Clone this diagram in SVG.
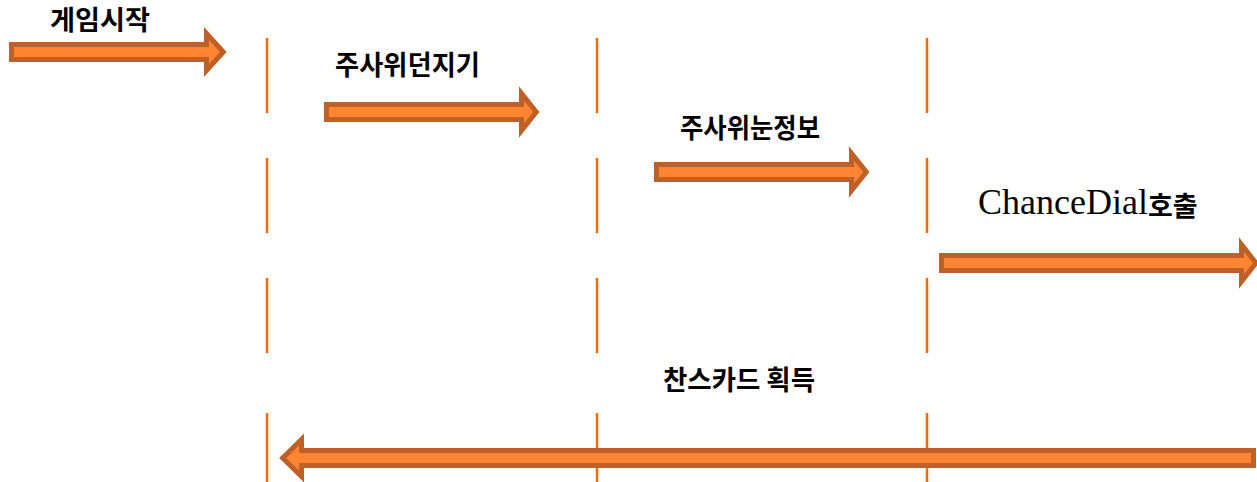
<svg xmlns="http://www.w3.org/2000/svg" width="1257" height="482" viewBox="0 0 1257 482">
  <style>
    .life { fill: none; stroke: #FF6A00; stroke-width: 2.5; }
    .arrow { fill: #FF8533; stroke: #BE6128; stroke-width: 5; stroke-linejoin: miter; stroke-miterlimit: 10; }
    .ko { font-family: "Noto Sans CJK KR", sans-serif; font-weight: bold; font-size: 27px; fill: #000; }
    .serif { font-family: "Liberation Serif", serif; font-size: 36px; fill: #000; }
  </style>
  <rect width="1257" height="482" fill="#fff"/>
  <g id="lifeline-1">
    <path class="life" d="M267,38V113M267,158V233M267,278V353M267,413V482"/>
  </g>
  <g id="lifeline-2">
    <path class="life" d="M597,38V113M597,158V233M597,278V353M597,413V482"/>
  </g>
  <g id="lifeline-3">
    <path class="life" d="M927,38V113M927,158V233M927,278V353M927,413V482"/>
  </g>
  <g id="connectors">
    <polygon class="arrow" points="11.5,44.5 206.5,44.5 206.5,33.5 223.3,52 206.5,70.5 206.5,59.5 11.5,59.5"/>
    <polygon class="arrow" points="326.5,104.5 521.5,104.5 521.5,93.5 536.3,112 521.5,130.5 521.5,119.5 326.5,119.5"/>
    <polygon class="arrow" points="656.5,164.5 851.5,164.5 851.5,153.5 866.3,172 851.5,190.5 851.5,179.5 656.5,179.5"/>
    <polygon class="arrow" points="941.5,255.5 1241.5,255.5 1241.5,244.5 1256,263 1241.5,281.5 1241.5,270.5 941.5,270.5"/>
    <polygon class="arrow" points="1253.5,450.5 301.5,450.5 301.5,439.5 282.7,458 301.5,476.5 301.5,465.5 1253.5,465.5"/>
  </g>
  <g id="label-start">
    <text class="ko" x="50" y="29.5" textLength="100" lengthAdjust="spacingAndGlyphs">게임시작</text>
  </g>
  <g id="label-roll">
    <text class="ko" x="335" y="74.5" textLength="145" lengthAdjust="spacingAndGlyphs">주사위던지기</text>
  </g>
  <g id="label-dice">
    <text class="ko" x="680" y="138" textLength="140" lengthAdjust="spacingAndGlyphs">주사위눈정보</text>
  </g>
  <g id="label-call">
    <text x="978" y="214"><tspan class="serif">ChanceDial</tspan><tspan class="ko" font-size="24px" dy="2">호출</tspan></text>
  </g>
  <g id="label-card">
    <text class="ko" x="663" y="390" textLength="152" lengthAdjust="spacingAndGlyphs">찬스카드 획득</text>
  </g>
</svg>
